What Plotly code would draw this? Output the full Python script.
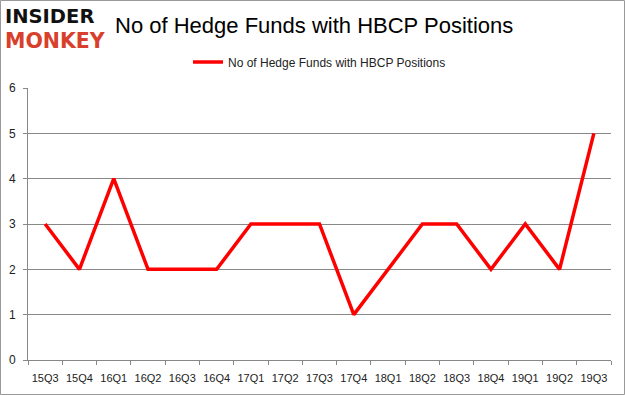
import plotly.graph_objects as go

quarters = ["15Q3", "15Q4", "16Q1", "16Q2", "16Q3", "16Q4", "17Q1", "17Q2", "17Q3",
            "17Q4", "18Q1", "18Q2", "18Q3", "18Q4", "19Q1", "19Q2", "19Q3"]
hedge_funds = [3, 2, 4, 2, 2, 2, 3, 3, 3, 1, 2, 3, 3, 2, 3, 2, 5]
y_ticks = [0, 1, 2, 3, 4, 5, 6]
series_name = "No of Hedge Funds with HBCP Positions"
title_text = "No of Hedge Funds with HBCP Positions"

W, H = 625, 395
L, R, T, B = 28, 14, 88, 35
pw, ph = W - L - R, H - T - B

def px(x):
    return (x - L) / pw

def py(y):
    return (H - B - y) / ph

fig = go.Figure()
fig.add_trace(go.Scatter(
    x=quarters, y=hedge_funds, mode="lines", name=series_name,
    line=dict(color="#ff0000", width=3.5),
))

fig.update_layout(
    width=W, height=H,
    margin=dict(l=L, r=R, t=T, b=B, autoexpand=False),
    paper_bgcolor="white", plot_bgcolor="white",
    font=dict(family="Liberation Sans", size=11, color="#222"),
    showlegend=True,
    legend=dict(orientation="h", x=0.5, xanchor="center", y=py(62), yanchor="middle",
                font=dict(size=12, color="#222"), itemwidth=30),
    xaxis=dict(type="category", range=[-0.5, len(quarters) - 0.5],
               showgrid=False, showline=True, linecolor="#888", linewidth=1,
               ticks="outside", ticklen=4, tickcolor="#888", tickson="boundaries",
               ticklabelstandoff=8, tickangle=0, automargin=False,
               tickfont=dict(size=11, color="#222"), fixedrange=True),
    yaxis=dict(range=[0, 6], tickvals=y_ticks, showgrid=True, gridcolor="#888",
               gridwidth=1, showline=True, linecolor="#888", linewidth=1,
               ticks="outside", ticklen=4, tickcolor="#888", zeroline=False,
               ticklabelstandoff=5, automargin=False,
               tickfont=dict(size=12, color="#222"), fixedrange=True),
)

fig.add_shape(type="rect", xref="paper", yref="paper",
              x0=px(0.5), x1=px(624.5), y0=py(394.5), y1=py(0.5),
              line=dict(color="#999", width=1), fillcolor="rgba(0,0,0,0)", layer="below")

logo = ("<b><span style='font-size:19.5px;color:#111'>INSIDER</span></b><br>"
        "<b><span style='font-size:20.5px;color:#d8402c'>MONKEY</span></b>")
fig.add_annotation(text=logo, xref="paper", yref="paper", x=px(3), y=py(29),
                   xanchor="left", yanchor="middle", align="left", showarrow=False,
                   font=dict(family="DejaVu Sans", size=19, color="#111"))
fig.add_annotation(text=title_text, xref="paper", yref="paper", x=px(314), y=py(26),
                   xanchor="center", yanchor="middle", showarrow=False,
                   font=dict(family="Liberation Sans", size=22, color="#000"))

fig.write_html("out.html", config={"displayModeBar": False},
               post_script="document.body.style.margin='0px';")
